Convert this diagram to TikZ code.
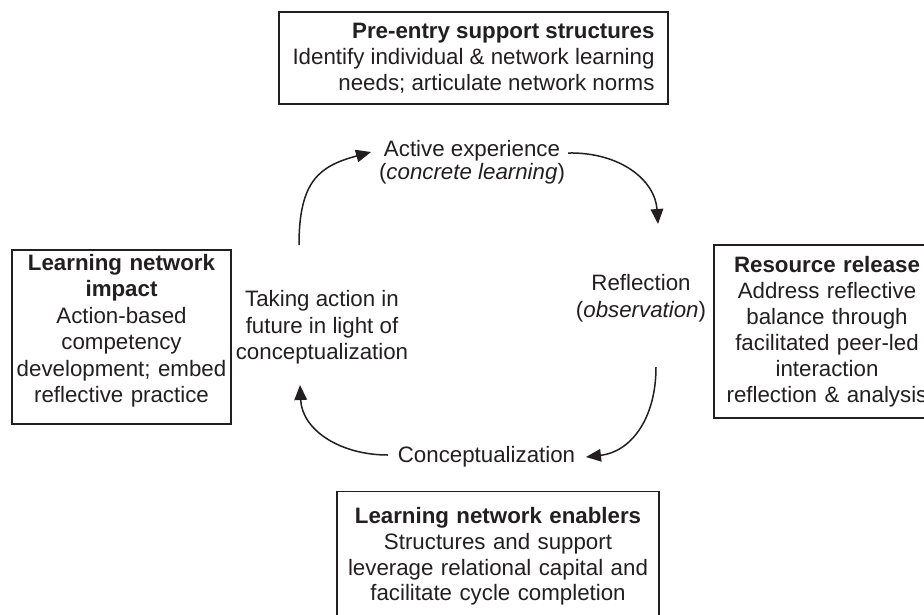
\documentclass[tikz,border=0pt]{standalone}
\usepackage{fontspec}
\setmainfont{Liberation Sans}
\usetikzlibrary{arrows.meta}
\definecolor{ink}{HTML}{231F20}
\begin{document}
\begin{tikzpicture}[x=1pt,y=-1pt,
  txt/.style={text=ink, font=\fontsize{22.3}{25.8}\selectfont, align=center, inner sep=0pt},
  panel/.style={draw=ink, line width=1.3pt, text=ink, font=\fontsize{22.3}{25.8}\selectfont, inner sep=0pt, align=center},
  cyc/.style={draw=ink, line width=1.5pt, -{Triangle[length=15pt,width=12.5pt]}}]
\useasboundingbox (0,0) rectangle (924,614);
\clip (0,0) rectangle (924,614);
\fill[white] (0,0) rectangle (924,614);

% boxes
\node[panel, minimum width=389pt, minimum height=92pt, align=right] (pre) at (473.5,58)
  {\textbf{Pre-entry support structures}\\Identify individual \& network learning\\needs; articulate network norms};
\node[panel, minimum width=219pt, minimum height=174pt, text width=213pt, font=\fontsize{22.3}{26.4}\selectfont] (impact) at (121.5,337)
  {\textbf{Learning network}\\\textbf{impact}\\Action-based\\competency\\development; embed\\reflective practice\rule[-17pt]{0pt}{17pt}};
\node[panel, minimum width=226pt, minimum height=173pt, text width=220pt, font=\fontsize{22.3}{26}\selectfont] (release) at (827,331.5)
  {\textbf{Resource release}\\Address reflective\\balance through\\facilitated peer-led\\interaction\\reflection \& analysis};
\node[panel, minimum width=322pt, minimum height=130pt, text width=316pt] (enablers) at (498,556.5)
  {\textbf{Learning network enablers}\\Structures and support\\leverage relational capital and\\facilitate cycle completion};

% cycle texts
\node[txt, font=\fontsize{22.3}{23}\selectfont] (active) at (472,162.5) {Active experience\\(\textit{concrete learning})};
\node[txt, font=\fontsize{22.3}{27}\selectfont] (reflect) at (641,298) {Reflection\\(\textit{observation})};
\node[txt, font=\fontsize{22.3}{26.5}\selectfont] (taking) at (322,327.5) {Taking action in\\future in light of\\conceptualization};
\node[txt] (concept) at (486.5,457) {Conceptualization};

% arc ends
\coordinate (a1s) at (299,245);
\coordinate (a1e) at (371,152);
\coordinate (a2s) at (568,153);
\coordinate (a2e) at (658,224);
\coordinate (a3s) at (656,367);
\coordinate (a3e) at (586,457);
\coordinate (a4s) at (388,455);
\coordinate (a4e) at (300,385);

\draw[cyc] (a1s) .. controls (299,180) and (320,166) .. (a1e);
\draw[cyc] (a2s) .. controls (620,152) and (655,180) .. (a2e);
\draw[cyc] (a3s) .. controls (656,420) and (630,452) .. (a3e);
\draw[cyc] (a4s) .. controls (340,455) and (302,430) .. (a4e);
\end{tikzpicture}
\end{document}
